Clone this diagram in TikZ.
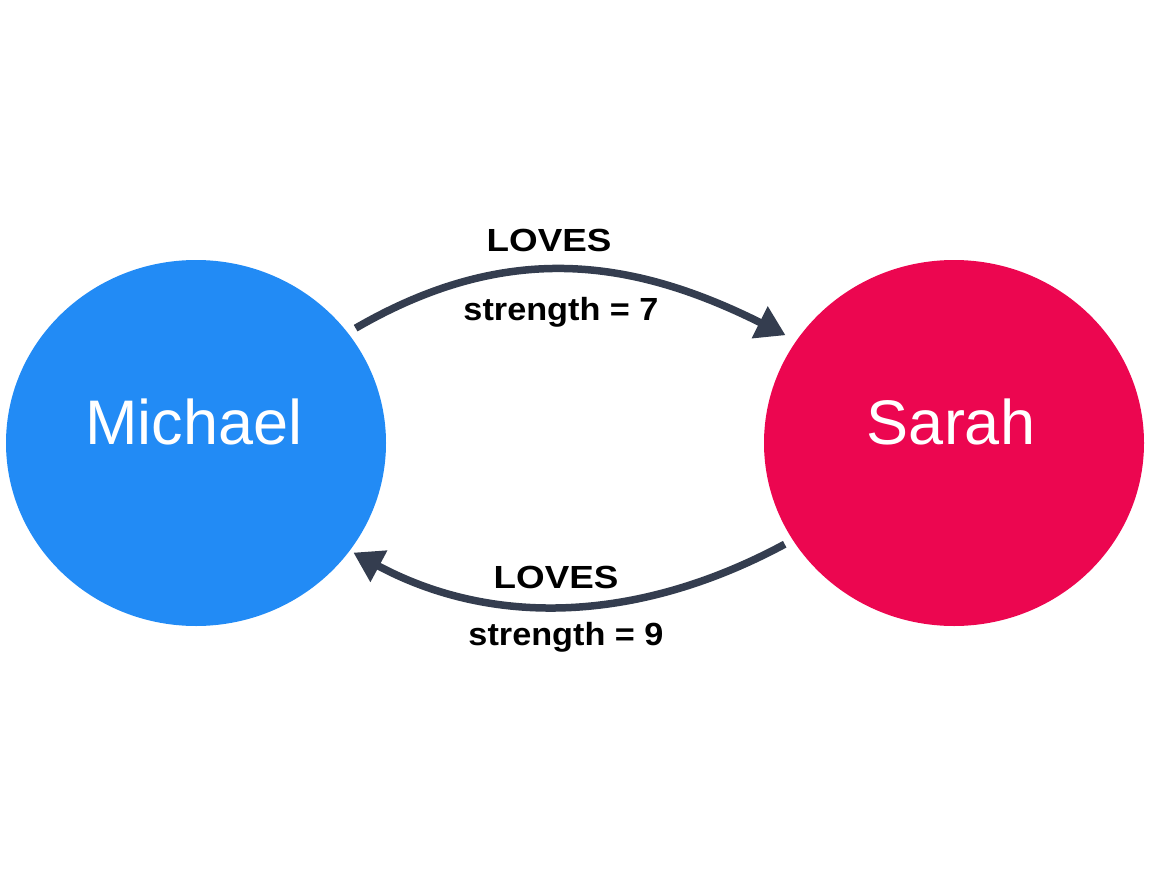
\documentclass[tikz,border=0pt]{standalone}
\usepackage{fontspec}
\usepackage{graphicx}
\setmainfont{Liberation Sans}
\usetikzlibrary{shapes.geometric,arrows.meta}
\definecolor{mblue}{HTML}{228BF5}
\definecolor{sred}{HTML}{EC0650}
\definecolor{edgec}{HTML}{343D4F}
\newcommand{\relname}[1]{\scalebox{1.15}[1]{#1}}
\newcommand{\relprop}[1]{\scalebox{1.07}[1]{#1}}
\begin{document}
\begin{tikzpicture}[x=1pt,y=-1pt,
  person/.style={ellipse,minimum width=380pt,minimum height=366pt,inner sep=0pt},
  pname/.style={anchor=base,inner sep=0pt,text=white,font=\fontsize{63}{70}\selectfont},
  rel/.style={draw=edgec,line width=7.5pt,-{Triangle[length=29pt,width=34pt]}},
  lbl/.style={anchor=base,font=\fontsize{32}{36}\selectfont\bfseries,text=black,inner sep=0pt}]
\useasboundingbox (0,0) rectangle (1168,870);
\node[person,fill=mblue] (m) at (196,443) {};
\node[person,fill=sred] (s) at (954,443) {};
\node[pname] (mt) at (194,444) {Michael};
\node[pname] (st) at (951,444) {Sarah};
\draw[rel,shorten <=9pt,shorten >=12pt] (m.36) .. controls (506,241) and (631,258) .. (s.147);
\draw[rel,shorten <=9pt,shorten >=4pt] (s.211) .. controls (642,621) and (496,629) .. (m.325);
\node[lbl] (l1) at (549,251) {\relname{LOVES}};
\node[lbl] (p1) at (561,320) {\relprop{strength = 7}};
\node[lbl] (l2) at (556,588) {\relname{LOVES}};
\node[lbl] (p2) at (566,645) {\relprop{strength = 9}};
\end{tikzpicture}
\end{document}
